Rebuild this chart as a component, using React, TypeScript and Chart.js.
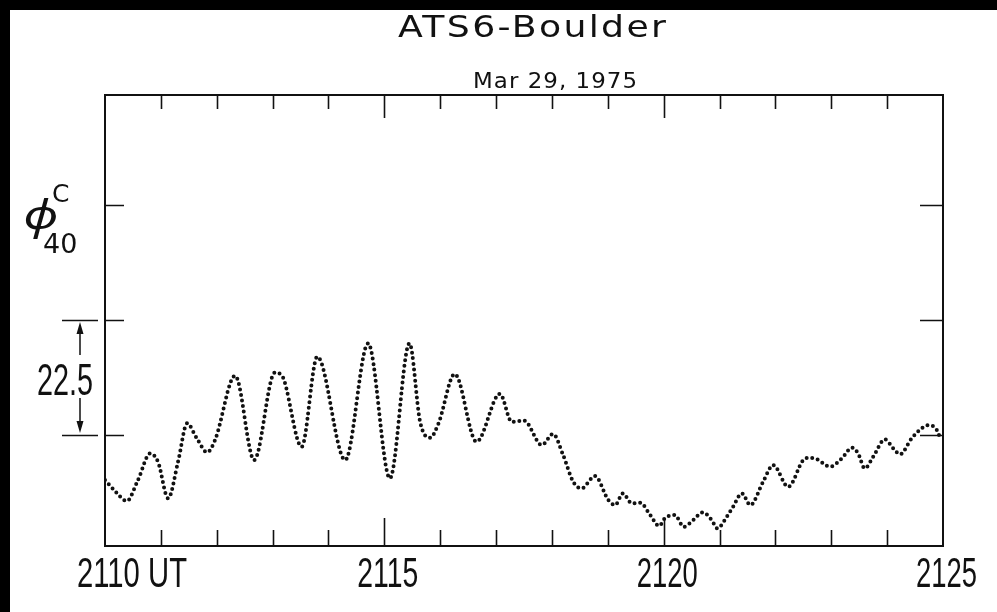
import React, { useEffect, useRef } from "react";
import { Chart, registerables } from "chart.js";
Chart.register(...registerables);

const TITLE = "ATS6-Boulder";
const SUBTITLE = "Mar 29, 1975";

// UT time in minutes (hhmm notation, fractional minutes)
const TIME_UT = [
  2110.0, 2110.18, 2110.39, 2110.59, 2110.81, 2110.95, 2111.13, 2111.31, 2111.47, 2111.64,
  2111.83, 2111.97, 2112.33, 2112.67, 2113.04, 2113.16, 2113.52, 2113.8, 2114.3, 2114.71,
  2115.1, 2115.45, 2115.64, 2115.82, 2115.97, 2116.26, 2116.65, 2117.07, 2117.28, 2117.5,
  2117.82, 2118.02, 2118.2, 2118.38, 2118.53, 2118.77, 2119.01, 2119.13, 2119.27, 2119.43,
  2119.58, 2119.76, 2119.92, 2120.02, 2120.2, 2120.36, 2120.53, 2120.7, 2120.86, 2120.96,
  2121.13, 2121.24, 2121.4, 2121.55, 2121.78, 2121.96, 2122.23, 2122.5, 2122.62, 2122.74,
  2122.98, 2123.19, 2123.37, 2123.48, 2123.6, 2123.75, 2123.96, 2124.11, 2124.23, 2124.44,
  2124.62, 2124.74, 2124.89, 2124.96,
];

// phi_40^c (relative units; scale bar = 22.5)
const PHI_40C = [
  -8.8, -10.96, -12.91, -8.8, -3.58, -5.28, -12.39, -5.09, 2.29, -0.59,
  -3.38, -0.98, 11.6, -4.89, 12.19, 11.74, -2.29, 15.32, -4.89, 17.94,
  -8.47, 17.94, 2.6, -0.53, 2.29, 11.94, -1.31, 8.06, 2.6, 2.84,
  -1.96, 0.2, -3.91, -9.14, -10.43, -8.02, -12.72, -13.7, -11.41, -13.36,
  -13.25, -15.65, -17.8, -16.3, -15.65, -17.94, -16.63, -15.12, -16.63, -18.25,
  -15.98, -14.09, -11.41, -13.7, -9.14, -5.87, -10.12, -4.89, -4.44, -4.7,
  -6.2, -4.56, -2.48, -3.58, -6.52, -4.25, -0.84, -2.6, -3.78, -0.65,
  1.31, 1.96, 0.98, -0.98,
];

const X_MIN = 2110;
const X_MAX = 2125;
const Y_MIN = -21.7;
const Y_MAX = 66.5;
const X_TICKS = [2110, 2111, 2112, 2113, 2114, 2115, 2116, 2117, 2118, 2119, 2120, 2121, 2122, 2123, 2124, 2125];
const X_LABEL_VALUES = [2110, 2115, 2120, 2125];
const X_LABELS = ["2110 UT", "2115", "2120", "2125"];
const Y_TICKS = [0, 22.5, 45];
const SCALE_BAR = [0, 22.5];
const SCALE_BAR_LABEL = "22.5";

const INK = "#111111";

function fitText(
  ctx: CanvasRenderingContext2D,
  text: string,
  left: number,
  baseline: number,
  width: number,
  size: number,
  family: string,
  spacing = 0
) {
  ctx.save();
  ctx.font = `${size}px ${family}`;
  ctx.textAlign = "left";
  ctx.textBaseline = "alphabetic";
  (ctx as any).letterSpacing = `${spacing}px`;
  const w = ctx.measureText(text).width - spacing;
  ctx.translate(left, baseline);
  ctx.scale(width / w, 1);
  ctx.fillText(text, 0, 0);
  ctx.restore();
}

const framePlugin = {
  id: "frame",
  beforeDraw(chart: any) {
    const ctx: CanvasRenderingContext2D = chart.ctx;
    ctx.save();
    ctx.fillStyle = "#000";
    ctx.fillRect(0, 0, chart.width, chart.height);
    ctx.fillStyle = "#fff";
    ctx.fillRect(10, 10, chart.width - 10, chart.height - 10);
    ctx.restore();
  },
  afterDraw(chart: any) {
    const ctx: CanvasRenderingContext2D = chart.ctx;
    const xs = chart.scales.x;
    const ys = chart.scales.y;
    const a = chart.chartArea;
    ctx.save();
    ctx.strokeStyle = INK;
    ctx.fillStyle = INK;
    ctx.lineWidth = 2;
    ctx.strokeRect(a.left, a.top, a.right - a.left, a.bottom - a.top);

    // x ticks (inward), bottom and top
    ctx.lineWidth = 1.6;
    ctx.beginPath();
    for (const t of X_TICKS) {
      if (t === X_MIN || t === X_MAX) continue;
      const px = Math.round(xs.getPixelForValue(t)) + 0.5;
      const major = t % 5 === 0;
      ctx.moveTo(px, a.bottom);
      ctx.lineTo(px, a.bottom - (major ? 28 : 16));
      ctx.moveTo(px, a.top);
      ctx.lineTo(px, a.top + (major ? 23 : 14));
    }
    // y ticks (inward), left and right
    for (const v of Y_TICKS) {
      const py = Math.round(ys.getPixelForValue(v)) + 0.5;
      ctx.moveTo(a.left, py);
      ctx.lineTo(a.left + 19, py);
      ctx.moveTo(a.right, py);
      ctx.lineTo(a.right - 23, py);
    }
    ctx.stroke();

    // x labels
    const fam = "'Liberation Sans', 'DejaVu Sans', sans-serif";
    X_LABEL_VALUES.forEach((v, i) => {
      const px = xs.getPixelForValue(v);
      if (i === 0) {
        fitText(ctx, X_LABELS[i], px - 28, 587, 110, 43, fam);
      } else {
        fitText(ctx, X_LABELS[i], px - 27, 587, 61, 43, fam);
      }
    });

    // scale bar
    const yTop = ys.getPixelForValue(SCALE_BAR[1]);
    const yBot = ys.getPixelForValue(SCALE_BAR[0]);
    const bx = 80;
    ctx.lineWidth = 1.5;
    ctx.beginPath();
    ctx.moveTo(62, Math.round(yTop) + 0.5);
    ctx.lineTo(98, Math.round(yTop) + 0.5);
    ctx.moveTo(62, Math.round(yBot) + 0.5);
    ctx.lineTo(98, Math.round(yBot) + 0.5);
    ctx.moveTo(bx, yTop + 8);
    ctx.lineTo(bx, yTop + 35);
    ctx.moveTo(bx, yBot - 37);
    ctx.lineTo(bx, yBot - 8);
    ctx.stroke();
    ctx.beginPath();
    ctx.moveTo(bx, yTop + 2);
    ctx.lineTo(bx - 3.5, yTop + 14);
    ctx.lineTo(bx + 3.5, yTop + 14);
    ctx.closePath();
    ctx.moveTo(bx, yBot - 2);
    ctx.lineTo(bx - 3.5, yBot - 14);
    ctx.lineTo(bx + 3.5, yBot - 14);
    ctx.closePath();
    ctx.fill();
    const mid = (yTop + yBot) / 2;
    fitText(ctx, SCALE_BAR_LABEL, 37, mid + 17, 56, 45, fam);

    // y label phi_40^c
    ctx.save();
    ctx.translate(41, 218);
    ctx.scale(1.3, 1);
    ctx.font = "italic 40px 'Noto Sans', 'DejaVu Sans', sans-serif";
    ctx.textAlign = "center";
    ctx.textBaseline = "middle";
    ctx.fillText("\u03D5", 0, 0);
    ctx.restore();
    ctx.textAlign = "left";
    ctx.textBaseline = "alphabetic";
    ctx.font = "25px 'DejaVu Sans', sans-serif";
    ctx.fillText("C", 52, 202);
    ctx.font = "27px 'DejaVu Sans', sans-serif";
    ctx.fillText("40", 43, 253);

    // titles
    fitText(ctx, TITLE, 398, 37, 268, 31, "'DejaVu Sans', sans-serif", 2);
    fitText(ctx, SUBTITLE, 473, 88, 164, 22, "'DejaVu Sans', sans-serif", 1);
    ctx.restore();
  },
};

export default function App() {
  const ref = useRef<HTMLCanvasElement | null>(null);
  useEffect(() => {
    if (!ref.current) return;
    const data = TIME_UT.map((t, i) => ({ x: t, y: PHI_40C[i] }));
    const chart = new Chart(ref.current, {
      type: "line",
      data: {
        datasets: [
          {
            data,
            borderColor: "#111",
            borderWidth: 4,
            borderDash: [0, 5.6],
            borderCapStyle: "round",
            pointRadius: 0,
            cubicInterpolationMode: "monotone",
            fill: false,
          },
        ],
      },
      options: {
        animation: false,
        responsive: false,
        devicePixelRatio: 1,
        layout: { padding: { left: 105, right: 54, top: 95, bottom: 66 } },
        plugins: { legend: { display: false }, tooltip: { enabled: false }, title: { display: false } },
        scales: {
          x: { type: "linear", min: X_MIN, max: X_MAX, display: false },
          y: { type: "linear", min: Y_MIN, max: Y_MAX, display: false },
        },
      },
      plugins: [framePlugin],
    });
    return () => chart.destroy();
  }, []);
  return (
    <canvas
      ref={ref}
      width={997}
      height={612}
      style={{ position: "fixed", left: 0, top: 0, display: "block" }}
    />
  );
}
